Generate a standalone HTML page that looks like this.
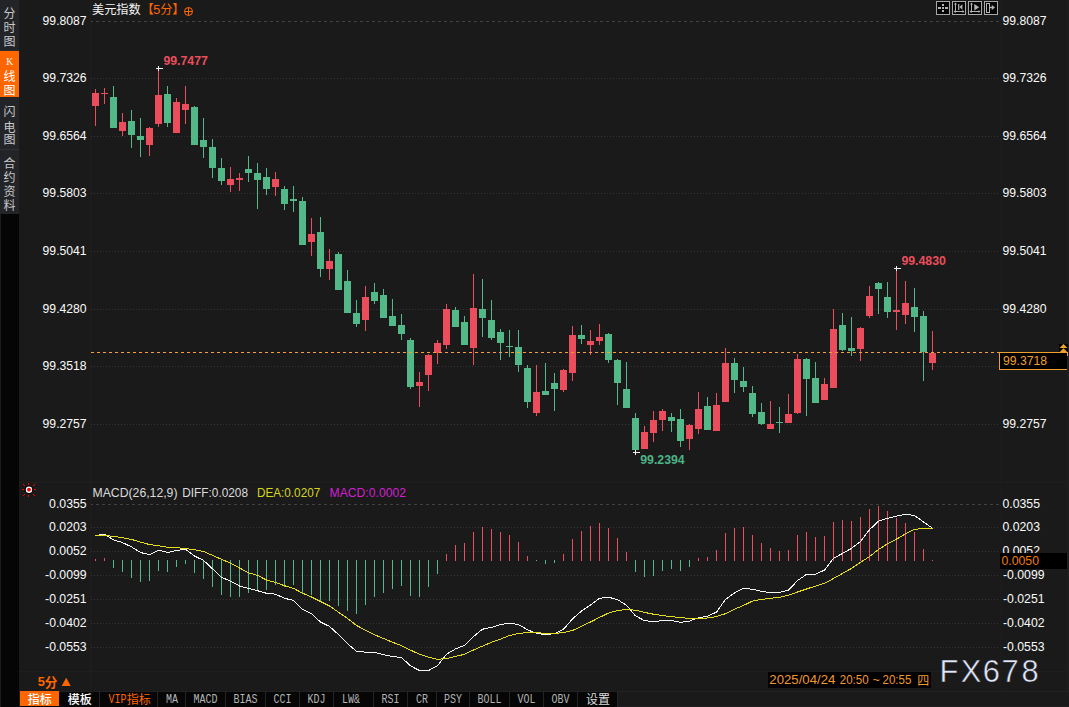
<!DOCTYPE html>
<html><head><meta charset="utf-8"><title>USD Index 5m</title>
<style>
html,body{margin:0;padding:0;background:#1a1a1a;}
body{width:1069px;height:707px;overflow:hidden;font-family:"Liberation Sans",sans-serif;}
svg{display:block;}
text{white-space:pre;}
</style></head><body>
<svg width="1069" height="707" viewBox="0 0 1069 707">
<rect x="0" y="0" width="1069" height="707" fill="#1a1a1a"/>
<g shape-rendering="crispEdges">
<rect x="90" y="0" width="1" height="691" fill="#1e1e1e"/>
<rect x="1000" y="0" width="1" height="691" fill="#1c1c1c"/>
<rect x="19" y="482" width="1050" height="1" fill="#1f1f1f"/>
<rect x="19" y="671" width="1050" height="1" fill="#1e1e1e"/>
<rect x="1067" y="0" width="2" height="691" fill="#1e1e1e"/>
<rect x="91" y="21" width="2" height="1" fill="#414141"/>
<rect x="96" y="21" width="3" height="1" fill="#414141"/>
<rect x="102" y="21" width="3" height="1" fill="#414141"/>
<rect x="108" y="21" width="3" height="1" fill="#414141"/>
<rect x="114" y="21" width="3" height="1" fill="#414141"/>
<rect x="120" y="21" width="3" height="1" fill="#414141"/>
<rect x="126" y="21" width="3" height="1" fill="#414141"/>
<rect x="132" y="21" width="3" height="1" fill="#414141"/>
<rect x="138" y="21" width="3" height="1" fill="#414141"/>
<rect x="144" y="21" width="3" height="1" fill="#414141"/>
<rect x="150" y="21" width="3" height="1" fill="#414141"/>
<rect x="156" y="21" width="3" height="1" fill="#414141"/>
<rect x="162" y="21" width="3" height="1" fill="#414141"/>
<rect x="168" y="21" width="3" height="1" fill="#414141"/>
<rect x="174" y="21" width="3" height="1" fill="#414141"/>
<rect x="180" y="21" width="3" height="1" fill="#414141"/>
<rect x="186" y="21" width="3" height="1" fill="#414141"/>
<rect x="192" y="21" width="3" height="1" fill="#414141"/>
<rect x="198" y="21" width="3" height="1" fill="#414141"/>
<rect x="204" y="21" width="3" height="1" fill="#414141"/>
<rect x="210" y="21" width="3" height="1" fill="#414141"/>
<rect x="216" y="21" width="3" height="1" fill="#414141"/>
<rect x="222" y="21" width="3" height="1" fill="#414141"/>
<rect x="228" y="21" width="3" height="1" fill="#414141"/>
<rect x="234" y="21" width="3" height="1" fill="#414141"/>
<rect x="240" y="21" width="3" height="1" fill="#414141"/>
<rect x="246" y="21" width="3" height="1" fill="#414141"/>
<rect x="252" y="21" width="3" height="1" fill="#414141"/>
<rect x="258" y="21" width="3" height="1" fill="#414141"/>
<rect x="264" y="21" width="3" height="1" fill="#414141"/>
<rect x="270" y="21" width="3" height="1" fill="#414141"/>
<rect x="276" y="21" width="3" height="1" fill="#414141"/>
<rect x="282" y="21" width="3" height="1" fill="#414141"/>
<rect x="288" y="21" width="3" height="1" fill="#414141"/>
<rect x="294" y="21" width="3" height="1" fill="#414141"/>
<rect x="300" y="21" width="3" height="1" fill="#414141"/>
<rect x="306" y="21" width="3" height="1" fill="#414141"/>
<rect x="312" y="21" width="3" height="1" fill="#414141"/>
<rect x="318" y="21" width="3" height="1" fill="#414141"/>
<rect x="324" y="21" width="3" height="1" fill="#414141"/>
<rect x="330" y="21" width="3" height="1" fill="#414141"/>
<rect x="336" y="21" width="3" height="1" fill="#414141"/>
<rect x="342" y="21" width="3" height="1" fill="#414141"/>
<rect x="348" y="21" width="3" height="1" fill="#414141"/>
<rect x="354" y="21" width="3" height="1" fill="#414141"/>
<rect x="360" y="21" width="3" height="1" fill="#414141"/>
<rect x="366" y="21" width="3" height="1" fill="#414141"/>
<rect x="372" y="21" width="3" height="1" fill="#414141"/>
<rect x="378" y="21" width="3" height="1" fill="#414141"/>
<rect x="384" y="21" width="3" height="1" fill="#414141"/>
<rect x="390" y="21" width="3" height="1" fill="#414141"/>
<rect x="396" y="21" width="3" height="1" fill="#414141"/>
<rect x="402" y="21" width="3" height="1" fill="#414141"/>
<rect x="408" y="21" width="3" height="1" fill="#414141"/>
<rect x="414" y="21" width="3" height="1" fill="#414141"/>
<rect x="420" y="21" width="3" height="1" fill="#414141"/>
<rect x="426" y="21" width="3" height="1" fill="#414141"/>
<rect x="432" y="21" width="3" height="1" fill="#414141"/>
<rect x="438" y="21" width="3" height="1" fill="#414141"/>
<rect x="444" y="21" width="3" height="1" fill="#414141"/>
<rect x="450" y="21" width="3" height="1" fill="#414141"/>
<rect x="456" y="21" width="3" height="1" fill="#414141"/>
<rect x="462" y="21" width="3" height="1" fill="#414141"/>
<rect x="468" y="21" width="3" height="1" fill="#414141"/>
<rect x="474" y="21" width="3" height="1" fill="#414141"/>
<rect x="480" y="21" width="3" height="1" fill="#414141"/>
<rect x="486" y="21" width="3" height="1" fill="#414141"/>
<rect x="492" y="21" width="3" height="1" fill="#414141"/>
<rect x="498" y="21" width="3" height="1" fill="#414141"/>
<rect x="504" y="21" width="3" height="1" fill="#414141"/>
<rect x="510" y="21" width="3" height="1" fill="#414141"/>
<rect x="516" y="21" width="3" height="1" fill="#414141"/>
<rect x="522" y="21" width="3" height="1" fill="#414141"/>
<rect x="528" y="21" width="3" height="1" fill="#414141"/>
<rect x="534" y="21" width="3" height="1" fill="#414141"/>
<rect x="540" y="21" width="3" height="1" fill="#414141"/>
<rect x="546" y="21" width="3" height="1" fill="#414141"/>
<rect x="552" y="21" width="3" height="1" fill="#414141"/>
<rect x="558" y="21" width="3" height="1" fill="#414141"/>
<rect x="564" y="21" width="3" height="1" fill="#414141"/>
<rect x="570" y="21" width="3" height="1" fill="#414141"/>
<rect x="576" y="21" width="3" height="1" fill="#414141"/>
<rect x="582" y="21" width="3" height="1" fill="#414141"/>
<rect x="588" y="21" width="3" height="1" fill="#414141"/>
<rect x="594" y="21" width="3" height="1" fill="#414141"/>
<rect x="600" y="21" width="3" height="1" fill="#414141"/>
<rect x="606" y="21" width="3" height="1" fill="#414141"/>
<rect x="612" y="21" width="3" height="1" fill="#414141"/>
<rect x="618" y="21" width="3" height="1" fill="#414141"/>
<rect x="624" y="21" width="3" height="1" fill="#414141"/>
<rect x="630" y="21" width="3" height="1" fill="#414141"/>
<rect x="636" y="21" width="3" height="1" fill="#414141"/>
<rect x="642" y="21" width="3" height="1" fill="#414141"/>
<rect x="648" y="21" width="3" height="1" fill="#414141"/>
<rect x="654" y="21" width="3" height="1" fill="#414141"/>
<rect x="660" y="21" width="3" height="1" fill="#414141"/>
<rect x="666" y="21" width="3" height="1" fill="#414141"/>
<rect x="672" y="21" width="3" height="1" fill="#414141"/>
<rect x="678" y="21" width="3" height="1" fill="#414141"/>
<rect x="684" y="21" width="3" height="1" fill="#414141"/>
<rect x="690" y="21" width="3" height="1" fill="#414141"/>
<rect x="696" y="21" width="3" height="1" fill="#414141"/>
<rect x="702" y="21" width="3" height="1" fill="#414141"/>
<rect x="708" y="21" width="3" height="1" fill="#414141"/>
<rect x="714" y="21" width="3" height="1" fill="#414141"/>
<rect x="720" y="21" width="3" height="1" fill="#414141"/>
<rect x="726" y="21" width="3" height="1" fill="#414141"/>
<rect x="732" y="21" width="3" height="1" fill="#414141"/>
<rect x="738" y="21" width="3" height="1" fill="#414141"/>
<rect x="744" y="21" width="3" height="1" fill="#414141"/>
<rect x="750" y="21" width="3" height="1" fill="#414141"/>
<rect x="756" y="21" width="3" height="1" fill="#414141"/>
<rect x="762" y="21" width="3" height="1" fill="#414141"/>
<rect x="768" y="21" width="3" height="1" fill="#414141"/>
<rect x="774" y="21" width="3" height="1" fill="#414141"/>
<rect x="780" y="21" width="3" height="1" fill="#414141"/>
<rect x="786" y="21" width="3" height="1" fill="#414141"/>
<rect x="792" y="21" width="3" height="1" fill="#414141"/>
<rect x="798" y="21" width="3" height="1" fill="#414141"/>
<rect x="804" y="21" width="3" height="1" fill="#414141"/>
<rect x="810" y="21" width="3" height="1" fill="#414141"/>
<rect x="816" y="21" width="3" height="1" fill="#414141"/>
<rect x="822" y="21" width="3" height="1" fill="#414141"/>
<rect x="828" y="21" width="3" height="1" fill="#414141"/>
<rect x="834" y="21" width="3" height="1" fill="#414141"/>
<rect x="840" y="21" width="3" height="1" fill="#414141"/>
<rect x="846" y="21" width="3" height="1" fill="#414141"/>
<rect x="852" y="21" width="3" height="1" fill="#414141"/>
<rect x="858" y="21" width="3" height="1" fill="#414141"/>
<rect x="864" y="21" width="3" height="1" fill="#414141"/>
<rect x="870" y="21" width="3" height="1" fill="#414141"/>
<rect x="876" y="21" width="3" height="1" fill="#414141"/>
<rect x="882" y="21" width="3" height="1" fill="#414141"/>
<rect x="888" y="21" width="3" height="1" fill="#414141"/>
<rect x="894" y="21" width="3" height="1" fill="#414141"/>
<rect x="900" y="21" width="3" height="1" fill="#414141"/>
<rect x="906" y="21" width="3" height="1" fill="#414141"/>
<rect x="912" y="21" width="3" height="1" fill="#414141"/>
<rect x="918" y="21" width="3" height="1" fill="#414141"/>
<rect x="924" y="21" width="3" height="1" fill="#414141"/>
<rect x="930" y="21" width="3" height="1" fill="#414141"/>
<rect x="936" y="21" width="3" height="1" fill="#414141"/>
<rect x="942" y="21" width="3" height="1" fill="#414141"/>
<rect x="948" y="21" width="3" height="1" fill="#414141"/>
<rect x="954" y="21" width="3" height="1" fill="#414141"/>
<rect x="960" y="21" width="3" height="1" fill="#414141"/>
<rect x="966" y="21" width="3" height="1" fill="#414141"/>
<rect x="972" y="21" width="3" height="1" fill="#414141"/>
<rect x="978" y="21" width="3" height="1" fill="#414141"/>
<rect x="984" y="21" width="3" height="1" fill="#414141"/>
<rect x="990" y="21" width="3" height="1" fill="#414141"/>
<rect x="996" y="21" width="3" height="1" fill="#414141"/>
<line x1="91" y1="78.5" x2="999" y2="78.5" stroke="#353535" stroke-width="1" stroke-dasharray="1 2"/>
<line x1="91" y1="136.5" x2="999" y2="136.5" stroke="#353535" stroke-width="1" stroke-dasharray="1 2"/>
<line x1="91" y1="193.5" x2="999" y2="193.5" stroke="#353535" stroke-width="1" stroke-dasharray="1 2"/>
<line x1="91" y1="251.5" x2="999" y2="251.5" stroke="#353535" stroke-width="1" stroke-dasharray="1 2"/>
<line x1="91" y1="309.5" x2="999" y2="309.5" stroke="#353535" stroke-width="1" stroke-dasharray="1 2"/>
<line x1="91" y1="366.5" x2="999" y2="366.5" stroke="#353535" stroke-width="1" stroke-dasharray="1 2"/>
<line x1="91" y1="424.5" x2="999" y2="424.5" stroke="#353535" stroke-width="1" stroke-dasharray="1 2"/>
<rect x="91" y="504" width="2" height="1" fill="#414141"/>
<rect x="96" y="504" width="3" height="1" fill="#414141"/>
<rect x="102" y="504" width="3" height="1" fill="#414141"/>
<rect x="108" y="504" width="3" height="1" fill="#414141"/>
<rect x="114" y="504" width="3" height="1" fill="#414141"/>
<rect x="120" y="504" width="3" height="1" fill="#414141"/>
<rect x="126" y="504" width="3" height="1" fill="#414141"/>
<rect x="132" y="504" width="3" height="1" fill="#414141"/>
<rect x="138" y="504" width="3" height="1" fill="#414141"/>
<rect x="144" y="504" width="3" height="1" fill="#414141"/>
<rect x="150" y="504" width="3" height="1" fill="#414141"/>
<rect x="156" y="504" width="3" height="1" fill="#414141"/>
<rect x="162" y="504" width="3" height="1" fill="#414141"/>
<rect x="168" y="504" width="3" height="1" fill="#414141"/>
<rect x="174" y="504" width="3" height="1" fill="#414141"/>
<rect x="180" y="504" width="3" height="1" fill="#414141"/>
<rect x="186" y="504" width="3" height="1" fill="#414141"/>
<rect x="192" y="504" width="3" height="1" fill="#414141"/>
<rect x="198" y="504" width="3" height="1" fill="#414141"/>
<rect x="204" y="504" width="3" height="1" fill="#414141"/>
<rect x="210" y="504" width="3" height="1" fill="#414141"/>
<rect x="216" y="504" width="3" height="1" fill="#414141"/>
<rect x="222" y="504" width="3" height="1" fill="#414141"/>
<rect x="228" y="504" width="3" height="1" fill="#414141"/>
<rect x="234" y="504" width="3" height="1" fill="#414141"/>
<rect x="240" y="504" width="3" height="1" fill="#414141"/>
<rect x="246" y="504" width="3" height="1" fill="#414141"/>
<rect x="252" y="504" width="3" height="1" fill="#414141"/>
<rect x="258" y="504" width="3" height="1" fill="#414141"/>
<rect x="264" y="504" width="3" height="1" fill="#414141"/>
<rect x="270" y="504" width="3" height="1" fill="#414141"/>
<rect x="276" y="504" width="3" height="1" fill="#414141"/>
<rect x="282" y="504" width="3" height="1" fill="#414141"/>
<rect x="288" y="504" width="3" height="1" fill="#414141"/>
<rect x="294" y="504" width="3" height="1" fill="#414141"/>
<rect x="300" y="504" width="3" height="1" fill="#414141"/>
<rect x="306" y="504" width="3" height="1" fill="#414141"/>
<rect x="312" y="504" width="3" height="1" fill="#414141"/>
<rect x="318" y="504" width="3" height="1" fill="#414141"/>
<rect x="324" y="504" width="3" height="1" fill="#414141"/>
<rect x="330" y="504" width="3" height="1" fill="#414141"/>
<rect x="336" y="504" width="3" height="1" fill="#414141"/>
<rect x="342" y="504" width="3" height="1" fill="#414141"/>
<rect x="348" y="504" width="3" height="1" fill="#414141"/>
<rect x="354" y="504" width="3" height="1" fill="#414141"/>
<rect x="360" y="504" width="3" height="1" fill="#414141"/>
<rect x="366" y="504" width="3" height="1" fill="#414141"/>
<rect x="372" y="504" width="3" height="1" fill="#414141"/>
<rect x="378" y="504" width="3" height="1" fill="#414141"/>
<rect x="384" y="504" width="3" height="1" fill="#414141"/>
<rect x="390" y="504" width="3" height="1" fill="#414141"/>
<rect x="396" y="504" width="3" height="1" fill="#414141"/>
<rect x="402" y="504" width="3" height="1" fill="#414141"/>
<rect x="408" y="504" width="3" height="1" fill="#414141"/>
<rect x="414" y="504" width="3" height="1" fill="#414141"/>
<rect x="420" y="504" width="3" height="1" fill="#414141"/>
<rect x="426" y="504" width="3" height="1" fill="#414141"/>
<rect x="432" y="504" width="3" height="1" fill="#414141"/>
<rect x="438" y="504" width="3" height="1" fill="#414141"/>
<rect x="444" y="504" width="3" height="1" fill="#414141"/>
<rect x="450" y="504" width="3" height="1" fill="#414141"/>
<rect x="456" y="504" width="3" height="1" fill="#414141"/>
<rect x="462" y="504" width="3" height="1" fill="#414141"/>
<rect x="468" y="504" width="3" height="1" fill="#414141"/>
<rect x="474" y="504" width="3" height="1" fill="#414141"/>
<rect x="480" y="504" width="3" height="1" fill="#414141"/>
<rect x="486" y="504" width="3" height="1" fill="#414141"/>
<rect x="492" y="504" width="3" height="1" fill="#414141"/>
<rect x="498" y="504" width="3" height="1" fill="#414141"/>
<rect x="504" y="504" width="3" height="1" fill="#414141"/>
<rect x="510" y="504" width="3" height="1" fill="#414141"/>
<rect x="516" y="504" width="3" height="1" fill="#414141"/>
<rect x="522" y="504" width="3" height="1" fill="#414141"/>
<rect x="528" y="504" width="3" height="1" fill="#414141"/>
<rect x="534" y="504" width="3" height="1" fill="#414141"/>
<rect x="540" y="504" width="3" height="1" fill="#414141"/>
<rect x="546" y="504" width="3" height="1" fill="#414141"/>
<rect x="552" y="504" width="3" height="1" fill="#414141"/>
<rect x="558" y="504" width="3" height="1" fill="#414141"/>
<rect x="564" y="504" width="3" height="1" fill="#414141"/>
<rect x="570" y="504" width="3" height="1" fill="#414141"/>
<rect x="576" y="504" width="3" height="1" fill="#414141"/>
<rect x="582" y="504" width="3" height="1" fill="#414141"/>
<rect x="588" y="504" width="3" height="1" fill="#414141"/>
<rect x="594" y="504" width="3" height="1" fill="#414141"/>
<rect x="600" y="504" width="3" height="1" fill="#414141"/>
<rect x="606" y="504" width="3" height="1" fill="#414141"/>
<rect x="612" y="504" width="3" height="1" fill="#414141"/>
<rect x="618" y="504" width="3" height="1" fill="#414141"/>
<rect x="624" y="504" width="3" height="1" fill="#414141"/>
<rect x="630" y="504" width="3" height="1" fill="#414141"/>
<rect x="636" y="504" width="3" height="1" fill="#414141"/>
<rect x="642" y="504" width="3" height="1" fill="#414141"/>
<rect x="648" y="504" width="3" height="1" fill="#414141"/>
<rect x="654" y="504" width="3" height="1" fill="#414141"/>
<rect x="660" y="504" width="3" height="1" fill="#414141"/>
<rect x="666" y="504" width="3" height="1" fill="#414141"/>
<rect x="672" y="504" width="3" height="1" fill="#414141"/>
<rect x="678" y="504" width="3" height="1" fill="#414141"/>
<rect x="684" y="504" width="3" height="1" fill="#414141"/>
<rect x="690" y="504" width="3" height="1" fill="#414141"/>
<rect x="696" y="504" width="3" height="1" fill="#414141"/>
<rect x="702" y="504" width="3" height="1" fill="#414141"/>
<rect x="708" y="504" width="3" height="1" fill="#414141"/>
<rect x="714" y="504" width="3" height="1" fill="#414141"/>
<rect x="720" y="504" width="3" height="1" fill="#414141"/>
<rect x="726" y="504" width="3" height="1" fill="#414141"/>
<rect x="732" y="504" width="3" height="1" fill="#414141"/>
<rect x="738" y="504" width="3" height="1" fill="#414141"/>
<rect x="744" y="504" width="3" height="1" fill="#414141"/>
<rect x="750" y="504" width="3" height="1" fill="#414141"/>
<rect x="756" y="504" width="3" height="1" fill="#414141"/>
<rect x="762" y="504" width="3" height="1" fill="#414141"/>
<rect x="768" y="504" width="3" height="1" fill="#414141"/>
<rect x="774" y="504" width="3" height="1" fill="#414141"/>
<rect x="780" y="504" width="3" height="1" fill="#414141"/>
<rect x="786" y="504" width="3" height="1" fill="#414141"/>
<rect x="792" y="504" width="3" height="1" fill="#414141"/>
<rect x="798" y="504" width="3" height="1" fill="#414141"/>
<rect x="804" y="504" width="3" height="1" fill="#414141"/>
<rect x="810" y="504" width="3" height="1" fill="#414141"/>
<rect x="816" y="504" width="3" height="1" fill="#414141"/>
<rect x="822" y="504" width="3" height="1" fill="#414141"/>
<rect x="828" y="504" width="3" height="1" fill="#414141"/>
<rect x="834" y="504" width="3" height="1" fill="#414141"/>
<rect x="840" y="504" width="3" height="1" fill="#414141"/>
<rect x="846" y="504" width="3" height="1" fill="#414141"/>
<rect x="852" y="504" width="3" height="1" fill="#414141"/>
<rect x="858" y="504" width="3" height="1" fill="#414141"/>
<rect x="864" y="504" width="3" height="1" fill="#414141"/>
<rect x="870" y="504" width="3" height="1" fill="#414141"/>
<rect x="876" y="504" width="3" height="1" fill="#414141"/>
<rect x="882" y="504" width="3" height="1" fill="#414141"/>
<rect x="888" y="504" width="3" height="1" fill="#414141"/>
<rect x="894" y="504" width="3" height="1" fill="#414141"/>
<rect x="900" y="504" width="3" height="1" fill="#414141"/>
<rect x="906" y="504" width="3" height="1" fill="#414141"/>
<rect x="912" y="504" width="3" height="1" fill="#414141"/>
<rect x="918" y="504" width="3" height="1" fill="#414141"/>
<rect x="924" y="504" width="3" height="1" fill="#414141"/>
<rect x="930" y="504" width="3" height="1" fill="#414141"/>
<rect x="936" y="504" width="3" height="1" fill="#414141"/>
<rect x="942" y="504" width="3" height="1" fill="#414141"/>
<rect x="948" y="504" width="3" height="1" fill="#414141"/>
<rect x="954" y="504" width="3" height="1" fill="#414141"/>
<rect x="960" y="504" width="3" height="1" fill="#414141"/>
<rect x="966" y="504" width="3" height="1" fill="#414141"/>
<rect x="972" y="504" width="3" height="1" fill="#414141"/>
<rect x="978" y="504" width="3" height="1" fill="#414141"/>
<rect x="984" y="504" width="3" height="1" fill="#414141"/>
<rect x="990" y="504" width="3" height="1" fill="#414141"/>
<rect x="996" y="504" width="3" height="1" fill="#414141"/>
<line x1="91" y1="527.5" x2="999" y2="527.5" stroke="#353535" stroke-width="1" stroke-dasharray="1 2"/>
<line x1="91" y1="551.5" x2="999" y2="551.5" stroke="#353535" stroke-width="1" stroke-dasharray="1 2"/>
<line x1="91" y1="575.5" x2="999" y2="575.5" stroke="#353535" stroke-width="1" stroke-dasharray="1 2"/>
<line x1="91" y1="599.5" x2="999" y2="599.5" stroke="#353535" stroke-width="1" stroke-dasharray="1 2"/>
<line x1="91" y1="623.5" x2="999" y2="623.5" stroke="#353535" stroke-width="1" stroke-dasharray="1 2"/>
<line x1="91" y1="647.5" x2="999" y2="647.5" stroke="#353535" stroke-width="1" stroke-dasharray="1 2"/>
<rect x="95" y="89" width="1" height="37" fill="#eb4d5c"/>
<rect x="92" y="93" width="7" height="13" fill="#eb4d5c"/>
<rect x="104" y="88" width="1" height="16" fill="#eb4d5c"/>
<rect x="101" y="93" width="7" height="1" fill="#eb4d5c"/>
<rect x="113" y="86" width="1" height="42" fill="#52b888"/>
<rect x="110" y="97" width="7" height="31" fill="#52b888"/>
<rect x="122" y="113" width="1" height="23" fill="#eb4d5c"/>
<rect x="119" y="122" width="7" height="9" fill="#eb4d5c"/>
<rect x="131" y="110" width="1" height="38" fill="#52b888"/>
<rect x="128" y="121" width="7" height="14" fill="#52b888"/>
<rect x="140" y="118" width="1" height="39" fill="#52b888"/>
<rect x="137" y="136" width="7" height="4" fill="#52b888"/>
<rect x="149" y="127" width="1" height="29" fill="#eb4d5c"/>
<rect x="146" y="128" width="7" height="17" fill="#eb4d5c"/>
<rect x="158" y="68" width="1" height="59" fill="#eb4d5c"/>
<rect x="155" y="95" width="7" height="29" fill="#eb4d5c"/>
<rect x="167" y="86" width="1" height="41" fill="#52b888"/>
<rect x="164" y="94" width="7" height="29" fill="#52b888"/>
<rect x="176" y="98" width="1" height="35" fill="#eb4d5c"/>
<rect x="173" y="102" width="7" height="31" fill="#eb4d5c"/>
<rect x="185" y="86" width="1" height="38" fill="#eb4d5c"/>
<rect x="182" y="104" width="7" height="6" fill="#eb4d5c"/>
<rect x="194" y="106" width="1" height="39" fill="#52b888"/>
<rect x="191" y="107" width="7" height="38" fill="#52b888"/>
<rect x="203" y="118" width="1" height="40" fill="#52b888"/>
<rect x="200" y="140" width="7" height="7" fill="#52b888"/>
<rect x="212" y="139" width="1" height="39" fill="#52b888"/>
<rect x="209" y="147" width="7" height="21" fill="#52b888"/>
<rect x="221" y="158" width="1" height="27" fill="#52b888"/>
<rect x="218" y="168" width="7" height="13" fill="#52b888"/>
<rect x="230" y="167" width="1" height="25" fill="#eb4d5c"/>
<rect x="227" y="179" width="7" height="6" fill="#eb4d5c"/>
<rect x="239" y="173" width="1" height="18" fill="#eb4d5c"/>
<rect x="236" y="178" width="7" height="2" fill="#eb4d5c"/>
<rect x="248" y="156" width="1" height="26" fill="#52b888"/>
<rect x="245" y="169" width="7" height="4" fill="#52b888"/>
<rect x="257" y="163" width="1" height="46" fill="#52b888"/>
<rect x="254" y="173" width="7" height="7" fill="#52b888"/>
<rect x="266" y="168" width="1" height="27" fill="#52b888"/>
<rect x="263" y="177" width="7" height="12" fill="#52b888"/>
<rect x="275" y="172" width="1" height="24" fill="#eb4d5c"/>
<rect x="272" y="179" width="7" height="8" fill="#eb4d5c"/>
<rect x="284" y="186" width="1" height="24" fill="#52b888"/>
<rect x="281" y="189" width="7" height="15" fill="#52b888"/>
<rect x="293" y="186" width="1" height="26" fill="#52b888"/>
<rect x="290" y="199" width="7" height="2" fill="#52b888"/>
<rect x="302" y="197" width="1" height="48" fill="#52b888"/>
<rect x="299" y="201" width="7" height="44" fill="#52b888"/>
<rect x="311" y="218" width="1" height="38" fill="#eb4d5c"/>
<rect x="308" y="234" width="7" height="8" fill="#eb4d5c"/>
<rect x="320" y="217" width="1" height="60" fill="#52b888"/>
<rect x="317" y="232" width="7" height="37" fill="#52b888"/>
<rect x="329" y="249" width="1" height="31" fill="#eb4d5c"/>
<rect x="326" y="261" width="7" height="8" fill="#eb4d5c"/>
<rect x="338" y="252" width="1" height="38" fill="#52b888"/>
<rect x="335" y="254" width="7" height="36" fill="#52b888"/>
<rect x="347" y="270" width="1" height="43" fill="#52b888"/>
<rect x="344" y="281" width="7" height="32" fill="#52b888"/>
<rect x="356" y="300" width="1" height="27" fill="#52b888"/>
<rect x="353" y="313" width="7" height="11" fill="#52b888"/>
<rect x="365" y="286" width="1" height="45" fill="#eb4d5c"/>
<rect x="362" y="297" width="7" height="23" fill="#eb4d5c"/>
<rect x="374" y="283" width="1" height="21" fill="#52b888"/>
<rect x="371" y="292" width="7" height="9" fill="#52b888"/>
<rect x="383" y="289" width="1" height="29" fill="#52b888"/>
<rect x="380" y="295" width="7" height="23" fill="#52b888"/>
<rect x="392" y="299" width="1" height="27" fill="#52b888"/>
<rect x="389" y="316" width="7" height="10" fill="#52b888"/>
<rect x="401" y="314" width="1" height="26" fill="#52b888"/>
<rect x="398" y="325" width="7" height="9" fill="#52b888"/>
<rect x="410" y="338" width="1" height="51" fill="#52b888"/>
<rect x="407" y="340" width="7" height="47" fill="#52b888"/>
<rect x="419" y="372" width="1" height="35" fill="#eb4d5c"/>
<rect x="416" y="382" width="7" height="4" fill="#eb4d5c"/>
<rect x="428" y="354" width="1" height="37" fill="#eb4d5c"/>
<rect x="425" y="355" width="7" height="20" fill="#eb4d5c"/>
<rect x="437" y="340" width="1" height="24" fill="#eb4d5c"/>
<rect x="434" y="343" width="7" height="10" fill="#eb4d5c"/>
<rect x="446" y="304" width="1" height="45" fill="#eb4d5c"/>
<rect x="443" y="309" width="7" height="36" fill="#eb4d5c"/>
<rect x="455" y="307" width="1" height="20" fill="#52b888"/>
<rect x="452" y="310" width="7" height="17" fill="#52b888"/>
<rect x="464" y="316" width="1" height="29" fill="#52b888"/>
<rect x="461" y="322" width="7" height="23" fill="#52b888"/>
<rect x="473" y="274" width="1" height="91" fill="#eb4d5c"/>
<rect x="470" y="308" width="7" height="40" fill="#eb4d5c"/>
<rect x="482" y="279" width="1" height="58" fill="#52b888"/>
<rect x="479" y="309" width="7" height="9" fill="#52b888"/>
<rect x="491" y="300" width="1" height="40" fill="#52b888"/>
<rect x="488" y="320" width="7" height="18" fill="#52b888"/>
<rect x="500" y="329" width="1" height="31" fill="#52b888"/>
<rect x="497" y="332" width="7" height="11" fill="#52b888"/>
<rect x="509" y="330" width="1" height="27" fill="#52b888"/>
<rect x="506" y="346" width="7" height="1" fill="#52b888"/>
<rect x="518" y="330" width="1" height="42" fill="#52b888"/>
<rect x="515" y="347" width="7" height="18" fill="#52b888"/>
<rect x="527" y="365" width="1" height="43" fill="#52b888"/>
<rect x="524" y="368" width="7" height="34" fill="#52b888"/>
<rect x="536" y="365" width="1" height="51" fill="#eb4d5c"/>
<rect x="533" y="392" width="7" height="21" fill="#eb4d5c"/>
<rect x="545" y="363" width="1" height="32" fill="#52b888"/>
<rect x="542" y="391" width="7" height="4" fill="#52b888"/>
<rect x="554" y="373" width="1" height="38" fill="#52b888"/>
<rect x="551" y="383" width="7" height="6" fill="#52b888"/>
<rect x="563" y="369" width="1" height="23" fill="#eb4d5c"/>
<rect x="560" y="370" width="7" height="20" fill="#eb4d5c"/>
<rect x="572" y="326" width="1" height="55" fill="#eb4d5c"/>
<rect x="569" y="335" width="7" height="38" fill="#eb4d5c"/>
<rect x="581" y="325" width="1" height="19" fill="#52b888"/>
<rect x="578" y="335" width="7" height="4" fill="#52b888"/>
<rect x="590" y="330" width="1" height="25" fill="#eb4d5c"/>
<rect x="587" y="341" width="7" height="4" fill="#eb4d5c"/>
<rect x="599" y="324" width="1" height="21" fill="#eb4d5c"/>
<rect x="596" y="337" width="7" height="4" fill="#eb4d5c"/>
<rect x="608" y="333" width="1" height="30" fill="#52b888"/>
<rect x="605" y="334" width="7" height="26" fill="#52b888"/>
<rect x="617" y="359" width="1" height="46" fill="#52b888"/>
<rect x="614" y="360" width="7" height="23" fill="#52b888"/>
<rect x="626" y="362" width="1" height="46" fill="#52b888"/>
<rect x="623" y="389" width="7" height="19" fill="#52b888"/>
<rect x="635" y="413" width="1" height="39" fill="#52b888"/>
<rect x="632" y="418" width="7" height="32" fill="#52b888"/>
<rect x="644" y="426" width="1" height="23" fill="#eb4d5c"/>
<rect x="641" y="432" width="7" height="17" fill="#eb4d5c"/>
<rect x="653" y="411" width="1" height="31" fill="#eb4d5c"/>
<rect x="650" y="420" width="7" height="13" fill="#eb4d5c"/>
<rect x="662" y="409" width="1" height="22" fill="#eb4d5c"/>
<rect x="659" y="411" width="7" height="9" fill="#eb4d5c"/>
<rect x="671" y="413" width="1" height="19" fill="#52b888"/>
<rect x="668" y="417" width="7" height="4" fill="#52b888"/>
<rect x="680" y="409" width="1" height="38" fill="#52b888"/>
<rect x="677" y="419" width="7" height="22" fill="#52b888"/>
<rect x="689" y="424" width="1" height="26" fill="#eb4d5c"/>
<rect x="686" y="425" width="7" height="14" fill="#eb4d5c"/>
<rect x="698" y="392" width="1" height="42" fill="#eb4d5c"/>
<rect x="695" y="409" width="7" height="20" fill="#eb4d5c"/>
<rect x="707" y="397" width="1" height="33" fill="#52b888"/>
<rect x="704" y="406" width="7" height="24" fill="#52b888"/>
<rect x="716" y="393" width="1" height="38" fill="#eb4d5c"/>
<rect x="713" y="405" width="7" height="26" fill="#eb4d5c"/>
<rect x="725" y="348" width="1" height="54" fill="#eb4d5c"/>
<rect x="722" y="363" width="7" height="39" fill="#eb4d5c"/>
<rect x="734" y="358" width="1" height="35" fill="#52b888"/>
<rect x="731" y="363" width="7" height="17" fill="#52b888"/>
<rect x="743" y="367" width="1" height="25" fill="#52b888"/>
<rect x="740" y="381" width="7" height="6" fill="#52b888"/>
<rect x="752" y="386" width="1" height="31" fill="#52b888"/>
<rect x="749" y="393" width="7" height="21" fill="#52b888"/>
<rect x="761" y="403" width="1" height="22" fill="#52b888"/>
<rect x="758" y="412" width="7" height="12" fill="#52b888"/>
<rect x="770" y="401" width="1" height="28" fill="#eb4d5c"/>
<rect x="767" y="424" width="7" height="5" fill="#eb4d5c"/>
<rect x="779" y="407" width="1" height="26" fill="#52b888"/>
<rect x="776" y="422" width="7" height="1" fill="#52b888"/>
<rect x="788" y="394" width="1" height="29" fill="#eb4d5c"/>
<rect x="785" y="414" width="7" height="9" fill="#eb4d5c"/>
<rect x="797" y="354" width="1" height="60" fill="#eb4d5c"/>
<rect x="794" y="359" width="7" height="54" fill="#eb4d5c"/>
<rect x="806" y="358" width="1" height="58" fill="#52b888"/>
<rect x="803" y="359" width="7" height="20" fill="#52b888"/>
<rect x="815" y="362" width="1" height="41" fill="#52b888"/>
<rect x="812" y="378" width="7" height="25" fill="#52b888"/>
<rect x="824" y="378" width="1" height="22" fill="#eb4d5c"/>
<rect x="821" y="384" width="7" height="16" fill="#eb4d5c"/>
<rect x="833" y="309" width="1" height="79" fill="#eb4d5c"/>
<rect x="830" y="329" width="7" height="59" fill="#eb4d5c"/>
<rect x="842" y="313" width="1" height="38" fill="#52b888"/>
<rect x="839" y="325" width="7" height="25" fill="#52b888"/>
<rect x="851" y="317" width="1" height="39" fill="#52b888"/>
<rect x="848" y="348" width="7" height="3" fill="#52b888"/>
<rect x="860" y="327" width="1" height="34" fill="#eb4d5c"/>
<rect x="857" y="328" width="7" height="21" fill="#eb4d5c"/>
<rect x="869" y="286" width="1" height="32" fill="#eb4d5c"/>
<rect x="866" y="296" width="7" height="20" fill="#eb4d5c"/>
<rect x="878" y="282" width="1" height="32" fill="#52b888"/>
<rect x="875" y="283" width="7" height="6" fill="#52b888"/>
<rect x="887" y="282" width="1" height="36" fill="#52b888"/>
<rect x="884" y="297" width="7" height="15" fill="#52b888"/>
<rect x="896" y="268" width="1" height="62" fill="#eb4d5c"/>
<rect x="893" y="310" width="7" height="2" fill="#eb4d5c"/>
<rect x="905" y="281" width="1" height="43" fill="#eb4d5c"/>
<rect x="902" y="303" width="7" height="12" fill="#eb4d5c"/>
<rect x="914" y="288" width="1" height="44" fill="#52b888"/>
<rect x="911" y="307" width="7" height="10" fill="#52b888"/>
<rect x="923" y="311" width="1" height="70" fill="#52b888"/>
<rect x="920" y="316" width="7" height="36" fill="#52b888"/>
<rect x="932" y="331" width="1" height="39" fill="#eb4d5c"/>
<rect x="929" y="353" width="7" height="10" fill="#eb4d5c"/>
<rect x="95" y="559" width="1" height="2" fill="#eb4d5c"/>
<rect x="104" y="558" width="1" height="3" fill="#eb4d5c"/>
<rect x="113" y="560" width="1" height="8" fill="#52b888"/>
<rect x="122" y="560" width="1" height="12" fill="#52b888"/>
<rect x="131" y="560" width="1" height="18" fill="#52b888"/>
<rect x="140" y="560" width="1" height="22" fill="#52b888"/>
<rect x="149" y="560" width="1" height="21" fill="#52b888"/>
<rect x="158" y="560" width="1" height="11" fill="#52b888"/>
<rect x="167" y="560" width="1" height="12" fill="#52b888"/>
<rect x="176" y="560" width="1" height="7" fill="#52b888"/>
<rect x="185" y="560" width="1" height="4" fill="#52b888"/>
<rect x="194" y="560" width="1" height="13" fill="#52b888"/>
<rect x="203" y="560" width="1" height="19" fill="#52b888"/>
<rect x="212" y="560" width="1" height="27" fill="#52b888"/>
<rect x="221" y="560" width="1" height="35" fill="#52b888"/>
<rect x="230" y="560" width="1" height="37" fill="#52b888"/>
<rect x="239" y="560" width="1" height="37" fill="#52b888"/>
<rect x="248" y="560" width="1" height="33" fill="#52b888"/>
<rect x="257" y="560" width="1" height="31" fill="#52b888"/>
<rect x="266" y="560" width="1" height="30" fill="#52b888"/>
<rect x="275" y="560" width="1" height="25" fill="#52b888"/>
<rect x="284" y="560" width="1" height="27" fill="#52b888"/>
<rect x="293" y="560" width="1" height="25" fill="#52b888"/>
<rect x="302" y="560" width="1" height="34" fill="#52b888"/>
<rect x="311" y="560" width="1" height="35" fill="#52b888"/>
<rect x="320" y="560" width="1" height="42" fill="#52b888"/>
<rect x="329" y="560" width="1" height="41" fill="#52b888"/>
<rect x="338" y="560" width="1" height="46" fill="#52b888"/>
<rect x="347" y="560" width="1" height="51" fill="#52b888"/>
<rect x="356" y="560" width="1" height="54" fill="#52b888"/>
<rect x="365" y="560" width="1" height="45" fill="#52b888"/>
<rect x="374" y="560" width="1" height="37" fill="#52b888"/>
<rect x="383" y="560" width="1" height="33" fill="#52b888"/>
<rect x="392" y="560" width="1" height="29" fill="#52b888"/>
<rect x="401" y="560" width="1" height="26" fill="#52b888"/>
<rect x="410" y="560" width="1" height="36" fill="#52b888"/>
<rect x="419" y="560" width="1" height="37" fill="#52b888"/>
<rect x="428" y="560" width="1" height="27" fill="#52b888"/>
<rect x="437" y="560" width="1" height="14" fill="#52b888"/>
<rect x="446" y="554" width="1" height="7" fill="#eb4d5c"/>
<rect x="455" y="545" width="1" height="16" fill="#eb4d5c"/>
<rect x="464" y="543" width="1" height="18" fill="#eb4d5c"/>
<rect x="473" y="532" width="1" height="29" fill="#eb4d5c"/>
<rect x="482" y="527" width="1" height="34" fill="#eb4d5c"/>
<rect x="491" y="529" width="1" height="32" fill="#eb4d5c"/>
<rect x="500" y="532" width="1" height="29" fill="#eb4d5c"/>
<rect x="509" y="535" width="1" height="26" fill="#eb4d5c"/>
<rect x="518" y="542" width="1" height="19" fill="#eb4d5c"/>
<rect x="527" y="556" width="1" height="5" fill="#eb4d5c"/>
<rect x="536" y="560" width="1" height="1" fill="#52b888"/>
<rect x="545" y="560" width="1" height="4" fill="#52b888"/>
<rect x="554" y="560" width="1" height="3" fill="#52b888"/>
<rect x="563" y="554" width="1" height="7" fill="#eb4d5c"/>
<rect x="572" y="539" width="1" height="22" fill="#eb4d5c"/>
<rect x="581" y="531" width="1" height="30" fill="#eb4d5c"/>
<rect x="590" y="526" width="1" height="35" fill="#eb4d5c"/>
<rect x="599" y="523" width="1" height="38" fill="#eb4d5c"/>
<rect x="608" y="528" width="1" height="33" fill="#eb4d5c"/>
<rect x="617" y="538" width="1" height="23" fill="#eb4d5c"/>
<rect x="626" y="552" width="1" height="9" fill="#eb4d5c"/>
<rect x="635" y="560" width="1" height="12" fill="#52b888"/>
<rect x="644" y="560" width="1" height="17" fill="#52b888"/>
<rect x="653" y="560" width="1" height="16" fill="#52b888"/>
<rect x="662" y="560" width="1" height="11" fill="#52b888"/>
<rect x="671" y="560" width="1" height="9" fill="#52b888"/>
<rect x="680" y="560" width="1" height="11" fill="#52b888"/>
<rect x="689" y="560" width="1" height="7" fill="#52b888"/>
<rect x="698" y="558" width="1" height="3" fill="#eb4d5c"/>
<rect x="707" y="557" width="1" height="4" fill="#eb4d5c"/>
<rect x="716" y="550" width="1" height="11" fill="#eb4d5c"/>
<rect x="725" y="533" width="1" height="28" fill="#eb4d5c"/>
<rect x="734" y="528" width="1" height="33" fill="#eb4d5c"/>
<rect x="743" y="527" width="1" height="34" fill="#eb4d5c"/>
<rect x="752" y="535" width="1" height="26" fill="#eb4d5c"/>
<rect x="761" y="543" width="1" height="18" fill="#eb4d5c"/>
<rect x="770" y="548" width="1" height="13" fill="#eb4d5c"/>
<rect x="779" y="551" width="1" height="10" fill="#eb4d5c"/>
<rect x="788" y="550" width="1" height="11" fill="#eb4d5c"/>
<rect x="797" y="535" width="1" height="26" fill="#eb4d5c"/>
<rect x="806" y="532" width="1" height="29" fill="#eb4d5c"/>
<rect x="815" y="537" width="1" height="24" fill="#eb4d5c"/>
<rect x="824" y="536" width="1" height="25" fill="#eb4d5c"/>
<rect x="833" y="522" width="1" height="39" fill="#eb4d5c"/>
<rect x="842" y="520" width="1" height="41" fill="#eb4d5c"/>
<rect x="851" y="521" width="1" height="40" fill="#eb4d5c"/>
<rect x="860" y="517" width="1" height="44" fill="#eb4d5c"/>
<rect x="869" y="509" width="1" height="52" fill="#eb4d5c"/>
<rect x="878" y="506" width="1" height="55" fill="#eb4d5c"/>
<rect x="887" y="511" width="1" height="50" fill="#eb4d5c"/>
<rect x="896" y="518" width="1" height="43" fill="#eb4d5c"/>
<rect x="905" y="523" width="1" height="38" fill="#eb4d5c"/>
<rect x="914" y="532" width="1" height="29" fill="#eb4d5c"/>
<rect x="923" y="549" width="1" height="12" fill="#eb4d5c"/>
<rect x="932" y="560" width="1" height="1" fill="#eb4d5c"/>
</g>
<polyline points="94.9,535.5 95.5,535.5 104.5,534.4 113.5,539.8 122.5,542.6 131.5,546.9 140.5,552.5 149.5,554.7 158.5,550.1 167.5,552.5 176.5,550.4 185.5,549.3 194.5,556.1 203.5,560.3 212.5,568.8 221.5,577.3 230.5,581.1 239.5,586.0 248.5,588.4 257.5,590.7 266.5,593.3 275.5,594.2 284.5,598.3 293.5,600.4 302.5,609.3 311.5,613.6 320.5,622.1 329.5,626.4 338.5,634.6 347.5,643.7 356.5,651.2 365.5,652.2 374.5,652.4 383.5,654.6 392.5,656.5 401.5,657.5 410.5,665.9 419.5,670.5 428.5,670.5 437.5,665.7 446.5,654.3 455.5,648.9 464.5,645.4 473.5,636.6 482.5,629.2 491.5,627.4 500.5,624.6 509.5,623.2 518.5,624.6 527.5,629.8 536.5,633.3 545.5,634.6 554.5,633.6 563.5,629.2 572.5,618.9 581.5,611.1 590.5,605.0 599.5,598.3 608.5,597.2 617.5,599.6 626.5,605.3 635.5,615.9 644.5,620.6 653.5,621.6 662.5,620.6 671.5,620.6 680.5,622.3 689.5,621.1 698.5,617.7 707.5,616.2 716.5,612.1 725.5,599.4 734.5,592.9 743.5,588.4 752.5,589.2 761.5,591.4 770.5,592.5 779.5,592.5 788.5,590.2 797.5,580.6 806.5,574.4 815.5,574.4 824.5,570.0 833.5,558.4 842.5,553.4 851.5,548.4 860.5,541.4 869.5,529.7 878.5,521.2 887.5,518.3 896.5,516.2 905.5,514.1 914.5,515.5 923.5,521.9 932.5,528.3" fill="none" stroke="#f6f6f6" stroke-width="1" stroke-linejoin="round" shape-rendering="crispEdges"/>
<polyline points="94.9,535.3 95.5,535.3 104.5,535.3 113.5,536.4 122.5,537.7 131.5,539.4 140.5,542.2 149.5,544.5 158.5,545.8 167.5,547.3 176.5,547.6 185.5,548.6 194.5,549.7 203.5,551.4 212.5,555.4 221.5,559.3 230.5,563.1 239.5,568.0 248.5,572.8 257.5,575.4 266.5,580.0 275.5,582.5 284.5,585.7 293.5,588.4 302.5,593.1 311.5,597.0 320.5,601.5 329.5,606.0 338.5,612.2 347.5,618.5 356.5,625.4 365.5,630.4 374.5,634.8 383.5,638.5 392.5,642.3 401.5,645.6 410.5,650.1 419.5,654.3 428.5,657.2 437.5,659.3 446.5,658.6 455.5,656.4 464.5,654.3 473.5,650.0 482.5,646.1 491.5,642.3 500.5,639.1 509.5,635.5 518.5,633.5 527.5,632.6 536.5,632.6 545.5,633.5 554.5,633.5 563.5,632.6 572.5,630.5 581.5,626.3 590.5,622.0 599.5,617.4 608.5,613.1 617.5,610.5 626.5,609.5 635.5,610.2 644.5,612.4 653.5,614.2 662.5,615.6 671.5,616.6 680.5,617.7 689.5,618.3 698.5,618.3 707.5,618.0 716.5,616.6 725.5,613.7 734.5,609.2 743.5,605.4 752.5,601.1 761.5,599.4 770.5,598.3 779.5,597.3 788.5,595.2 797.5,592.0 806.5,589.0 815.5,586.1 824.5,583.3 833.5,578.5 842.5,573.4 851.5,568.4 860.5,562.4 869.5,556.5 878.5,549.5 887.5,543.8 896.5,539.1 905.5,533.9 914.5,529.4 923.5,528.3 932.5,528.3" fill="none" stroke="#e6dc1e" stroke-width="1" stroke-linejoin="round" shape-rendering="crispEdges"/>
<g shape-rendering="crispEdges">
<rect x="91" y="352" width="3" height="1" fill="#f5a030"/>
<rect x="97" y="352" width="3" height="1" fill="#f5a030"/>
<rect x="103" y="352" width="3" height="1" fill="#f5a030"/>
<rect x="109" y="352" width="3" height="1" fill="#f5a030"/>
<rect x="115" y="352" width="3" height="1" fill="#f5a030"/>
<rect x="121" y="352" width="3" height="1" fill="#f5a030"/>
<rect x="127" y="352" width="3" height="1" fill="#f5a030"/>
<rect x="133" y="352" width="3" height="1" fill="#f5a030"/>
<rect x="139" y="352" width="3" height="1" fill="#f5a030"/>
<rect x="145" y="352" width="3" height="1" fill="#f5a030"/>
<rect x="151" y="352" width="3" height="1" fill="#f5a030"/>
<rect x="157" y="352" width="3" height="1" fill="#f5a030"/>
<rect x="163" y="352" width="3" height="1" fill="#f5a030"/>
<rect x="169" y="352" width="3" height="1" fill="#f5a030"/>
<rect x="175" y="352" width="3" height="1" fill="#f5a030"/>
<rect x="181" y="352" width="3" height="1" fill="#f5a030"/>
<rect x="187" y="352" width="3" height="1" fill="#f5a030"/>
<rect x="193" y="352" width="3" height="1" fill="#f5a030"/>
<rect x="199" y="352" width="3" height="1" fill="#f5a030"/>
<rect x="205" y="352" width="3" height="1" fill="#f5a030"/>
<rect x="211" y="352" width="3" height="1" fill="#f5a030"/>
<rect x="217" y="352" width="3" height="1" fill="#f5a030"/>
<rect x="223" y="352" width="3" height="1" fill="#f5a030"/>
<rect x="229" y="352" width="3" height="1" fill="#f5a030"/>
<rect x="235" y="352" width="3" height="1" fill="#f5a030"/>
<rect x="241" y="352" width="3" height="1" fill="#f5a030"/>
<rect x="247" y="352" width="3" height="1" fill="#f5a030"/>
<rect x="253" y="352" width="3" height="1" fill="#f5a030"/>
<rect x="259" y="352" width="3" height="1" fill="#f5a030"/>
<rect x="265" y="352" width="3" height="1" fill="#f5a030"/>
<rect x="271" y="352" width="3" height="1" fill="#f5a030"/>
<rect x="277" y="352" width="3" height="1" fill="#f5a030"/>
<rect x="283" y="352" width="3" height="1" fill="#f5a030"/>
<rect x="289" y="352" width="3" height="1" fill="#f5a030"/>
<rect x="295" y="352" width="3" height="1" fill="#f5a030"/>
<rect x="301" y="352" width="3" height="1" fill="#f5a030"/>
<rect x="307" y="352" width="3" height="1" fill="#f5a030"/>
<rect x="313" y="352" width="3" height="1" fill="#f5a030"/>
<rect x="319" y="352" width="3" height="1" fill="#f5a030"/>
<rect x="325" y="352" width="3" height="1" fill="#f5a030"/>
<rect x="331" y="352" width="3" height="1" fill="#f5a030"/>
<rect x="337" y="352" width="3" height="1" fill="#f5a030"/>
<rect x="343" y="352" width="3" height="1" fill="#f5a030"/>
<rect x="349" y="352" width="3" height="1" fill="#f5a030"/>
<rect x="355" y="352" width="3" height="1" fill="#f5a030"/>
<rect x="361" y="352" width="3" height="1" fill="#f5a030"/>
<rect x="367" y="352" width="3" height="1" fill="#f5a030"/>
<rect x="373" y="352" width="3" height="1" fill="#f5a030"/>
<rect x="379" y="352" width="3" height="1" fill="#f5a030"/>
<rect x="385" y="352" width="3" height="1" fill="#f5a030"/>
<rect x="391" y="352" width="3" height="1" fill="#f5a030"/>
<rect x="397" y="352" width="3" height="1" fill="#f5a030"/>
<rect x="403" y="352" width="3" height="1" fill="#f5a030"/>
<rect x="409" y="352" width="3" height="1" fill="#f5a030"/>
<rect x="415" y="352" width="3" height="1" fill="#f5a030"/>
<rect x="421" y="352" width="3" height="1" fill="#f5a030"/>
<rect x="427" y="352" width="3" height="1" fill="#f5a030"/>
<rect x="433" y="352" width="3" height="1" fill="#f5a030"/>
<rect x="439" y="352" width="3" height="1" fill="#f5a030"/>
<rect x="445" y="352" width="3" height="1" fill="#f5a030"/>
<rect x="451" y="352" width="3" height="1" fill="#f5a030"/>
<rect x="457" y="352" width="3" height="1" fill="#f5a030"/>
<rect x="463" y="352" width="3" height="1" fill="#f5a030"/>
<rect x="469" y="352" width="3" height="1" fill="#f5a030"/>
<rect x="475" y="352" width="3" height="1" fill="#f5a030"/>
<rect x="481" y="352" width="3" height="1" fill="#f5a030"/>
<rect x="487" y="352" width="3" height="1" fill="#f5a030"/>
<rect x="493" y="352" width="3" height="1" fill="#f5a030"/>
<rect x="499" y="352" width="3" height="1" fill="#f5a030"/>
<rect x="505" y="352" width="3" height="1" fill="#f5a030"/>
<rect x="511" y="352" width="3" height="1" fill="#f5a030"/>
<rect x="517" y="352" width="3" height="1" fill="#f5a030"/>
<rect x="523" y="352" width="3" height="1" fill="#f5a030"/>
<rect x="529" y="352" width="3" height="1" fill="#f5a030"/>
<rect x="535" y="352" width="3" height="1" fill="#f5a030"/>
<rect x="541" y="352" width="3" height="1" fill="#f5a030"/>
<rect x="547" y="352" width="3" height="1" fill="#f5a030"/>
<rect x="553" y="352" width="3" height="1" fill="#f5a030"/>
<rect x="559" y="352" width="3" height="1" fill="#f5a030"/>
<rect x="565" y="352" width="3" height="1" fill="#f5a030"/>
<rect x="571" y="352" width="3" height="1" fill="#f5a030"/>
<rect x="577" y="352" width="3" height="1" fill="#f5a030"/>
<rect x="583" y="352" width="3" height="1" fill="#f5a030"/>
<rect x="589" y="352" width="3" height="1" fill="#f5a030"/>
<rect x="595" y="352" width="3" height="1" fill="#f5a030"/>
<rect x="601" y="352" width="3" height="1" fill="#f5a030"/>
<rect x="607" y="352" width="3" height="1" fill="#f5a030"/>
<rect x="613" y="352" width="3" height="1" fill="#f5a030"/>
<rect x="619" y="352" width="3" height="1" fill="#f5a030"/>
<rect x="625" y="352" width="3" height="1" fill="#f5a030"/>
<rect x="631" y="352" width="3" height="1" fill="#f5a030"/>
<rect x="637" y="352" width="3" height="1" fill="#f5a030"/>
<rect x="643" y="352" width="3" height="1" fill="#f5a030"/>
<rect x="649" y="352" width="3" height="1" fill="#f5a030"/>
<rect x="655" y="352" width="3" height="1" fill="#f5a030"/>
<rect x="661" y="352" width="3" height="1" fill="#f5a030"/>
<rect x="667" y="352" width="3" height="1" fill="#f5a030"/>
<rect x="673" y="352" width="3" height="1" fill="#f5a030"/>
<rect x="679" y="352" width="3" height="1" fill="#f5a030"/>
<rect x="685" y="352" width="3" height="1" fill="#f5a030"/>
<rect x="691" y="352" width="3" height="1" fill="#f5a030"/>
<rect x="697" y="352" width="3" height="1" fill="#f5a030"/>
<rect x="703" y="352" width="3" height="1" fill="#f5a030"/>
<rect x="709" y="352" width="3" height="1" fill="#f5a030"/>
<rect x="715" y="352" width="3" height="1" fill="#f5a030"/>
<rect x="721" y="352" width="3" height="1" fill="#f5a030"/>
<rect x="727" y="352" width="3" height="1" fill="#f5a030"/>
<rect x="733" y="352" width="3" height="1" fill="#f5a030"/>
<rect x="739" y="352" width="3" height="1" fill="#f5a030"/>
<rect x="745" y="352" width="3" height="1" fill="#f5a030"/>
<rect x="751" y="352" width="3" height="1" fill="#f5a030"/>
<rect x="757" y="352" width="3" height="1" fill="#f5a030"/>
<rect x="763" y="352" width="3" height="1" fill="#f5a030"/>
<rect x="769" y="352" width="3" height="1" fill="#f5a030"/>
<rect x="775" y="352" width="3" height="1" fill="#f5a030"/>
<rect x="781" y="352" width="3" height="1" fill="#f5a030"/>
<rect x="787" y="352" width="3" height="1" fill="#f5a030"/>
<rect x="793" y="352" width="3" height="1" fill="#f5a030"/>
<rect x="799" y="352" width="3" height="1" fill="#f5a030"/>
<rect x="805" y="352" width="3" height="1" fill="#f5a030"/>
<rect x="811" y="352" width="3" height="1" fill="#f5a030"/>
<rect x="817" y="352" width="3" height="1" fill="#f5a030"/>
<rect x="823" y="352" width="3" height="1" fill="#f5a030"/>
<rect x="829" y="352" width="3" height="1" fill="#f5a030"/>
<rect x="835" y="352" width="3" height="1" fill="#f5a030"/>
<rect x="841" y="352" width="3" height="1" fill="#f5a030"/>
<rect x="847" y="352" width="3" height="1" fill="#f5a030"/>
<rect x="853" y="352" width="3" height="1" fill="#f5a030"/>
<rect x="859" y="352" width="3" height="1" fill="#f5a030"/>
<rect x="865" y="352" width="3" height="1" fill="#f5a030"/>
<rect x="871" y="352" width="3" height="1" fill="#f5a030"/>
<rect x="877" y="352" width="3" height="1" fill="#f5a030"/>
<rect x="883" y="352" width="3" height="1" fill="#f5a030"/>
<rect x="889" y="352" width="3" height="1" fill="#f5a030"/>
<rect x="895" y="352" width="3" height="1" fill="#f5a030"/>
<rect x="901" y="352" width="3" height="1" fill="#f5a030"/>
<rect x="907" y="352" width="3" height="1" fill="#f5a030"/>
<rect x="913" y="352" width="3" height="1" fill="#f5a030"/>
<rect x="919" y="352" width="3" height="1" fill="#f5a030"/>
<rect x="925" y="352" width="3" height="1" fill="#f5a030"/>
<rect x="931" y="352" width="3" height="1" fill="#f5a030"/>
<rect x="937" y="352" width="3" height="1" fill="#f5a030"/>
<rect x="943" y="352" width="3" height="1" fill="#f5a030"/>
<rect x="949" y="352" width="3" height="1" fill="#f5a030"/>
<rect x="955" y="352" width="3" height="1" fill="#f5a030"/>
<rect x="961" y="352" width="3" height="1" fill="#f5a030"/>
<rect x="967" y="352" width="3" height="1" fill="#f5a030"/>
<rect x="973" y="352" width="3" height="1" fill="#f5a030"/>
<rect x="979" y="352" width="3" height="1" fill="#f5a030"/>
<rect x="985" y="352" width="3" height="1" fill="#f5a030"/>
<rect x="991" y="352" width="3" height="1" fill="#f5a030"/>
<rect x="997" y="352" width="3" height="1" fill="#f5a030"/>
<rect x="999" y="352" width="68" height="18" fill="#f0a030"/>
<rect x="1000" y="353" width="67" height="16" fill="#000"/>
<rect x="1067" y="352" width="1" height="4" fill="#f0a030"/>
<rect x="1059" y="344" width="9" height="8" fill="#000"/>
</g>
<path d="M1063.5 344 L1067.5 348 L1059.5 348 Z M1063.5 348.3 L1067.5 352.3 L1059.5 352.3 Z" fill="#f0a030"/>
<text x="1003" y="365" fill="#f0a030" font-size="12.6" font-weight="normal" text-anchor="start" font-family="Liberation Sans" textLength="44" lengthAdjust="spacingAndGlyphs" >99.3718</text>
<rect x="1000" y="553" width="67" height="16" fill="#000" shape-rendering="crispEdges"/>
<text x="86.6" y="25" fill="#fafafa" font-size="12.6" font-weight="normal" text-anchor="end" font-family="Liberation Sans" textLength="44" lengthAdjust="spacingAndGlyphs" >99.8087</text>
<text x="1002.5" y="25" fill="#fafafa" font-size="12.6" font-weight="normal" text-anchor="start" font-family="Liberation Sans" textLength="44" lengthAdjust="spacingAndGlyphs" >99.8087</text>
<text x="86.6" y="82" fill="#fafafa" font-size="12.6" font-weight="normal" text-anchor="end" font-family="Liberation Sans" textLength="44" lengthAdjust="spacingAndGlyphs" >99.7326</text>
<text x="1002.5" y="82" fill="#fafafa" font-size="12.6" font-weight="normal" text-anchor="start" font-family="Liberation Sans" textLength="44" lengthAdjust="spacingAndGlyphs" >99.7326</text>
<text x="86.6" y="140" fill="#fafafa" font-size="12.6" font-weight="normal" text-anchor="end" font-family="Liberation Sans" textLength="44" lengthAdjust="spacingAndGlyphs" >99.6564</text>
<text x="1002.5" y="140" fill="#fafafa" font-size="12.6" font-weight="normal" text-anchor="start" font-family="Liberation Sans" textLength="44" lengthAdjust="spacingAndGlyphs" >99.6564</text>
<text x="86.6" y="197" fill="#fafafa" font-size="12.6" font-weight="normal" text-anchor="end" font-family="Liberation Sans" textLength="44" lengthAdjust="spacingAndGlyphs" >99.5803</text>
<text x="1002.5" y="197" fill="#fafafa" font-size="12.6" font-weight="normal" text-anchor="start" font-family="Liberation Sans" textLength="44" lengthAdjust="spacingAndGlyphs" >99.5803</text>
<text x="86.6" y="255" fill="#fafafa" font-size="12.6" font-weight="normal" text-anchor="end" font-family="Liberation Sans" textLength="44" lengthAdjust="spacingAndGlyphs" >99.5041</text>
<text x="1002.5" y="255" fill="#fafafa" font-size="12.6" font-weight="normal" text-anchor="start" font-family="Liberation Sans" textLength="44" lengthAdjust="spacingAndGlyphs" >99.5041</text>
<text x="86.6" y="313" fill="#fafafa" font-size="12.6" font-weight="normal" text-anchor="end" font-family="Liberation Sans" textLength="44" lengthAdjust="spacingAndGlyphs" >99.4280</text>
<text x="1002.5" y="313" fill="#fafafa" font-size="12.6" font-weight="normal" text-anchor="start" font-family="Liberation Sans" textLength="44" lengthAdjust="spacingAndGlyphs" >99.4280</text>
<text x="86.6" y="370" fill="#fafafa" font-size="12.6" font-weight="normal" text-anchor="end" font-family="Liberation Sans" textLength="44" lengthAdjust="spacingAndGlyphs" >99.3518</text>
<text x="86.6" y="428" fill="#fafafa" font-size="12.6" font-weight="normal" text-anchor="end" font-family="Liberation Sans" textLength="44" lengthAdjust="spacingAndGlyphs" >99.2757</text>
<text x="1002.5" y="428" fill="#fafafa" font-size="12.6" font-weight="normal" text-anchor="start" font-family="Liberation Sans" textLength="44" lengthAdjust="spacingAndGlyphs" >99.2757</text>
<text x="86.6" y="508" fill="#fafafa" font-size="12.6" font-weight="normal" text-anchor="end" font-family="Liberation Sans" textLength="37.5" lengthAdjust="spacingAndGlyphs" >0.0355</text>
<text x="1002.5" y="508" fill="#fafafa" font-size="12.6" font-weight="normal" text-anchor="start" font-family="Liberation Sans" textLength="37.5" lengthAdjust="spacingAndGlyphs" >0.0355</text>
<text x="86.6" y="531" fill="#fafafa" font-size="12.6" font-weight="normal" text-anchor="end" font-family="Liberation Sans" textLength="37.5" lengthAdjust="spacingAndGlyphs" >0.0203</text>
<text x="1002.5" y="531" fill="#fafafa" font-size="12.6" font-weight="normal" text-anchor="start" font-family="Liberation Sans" textLength="37.5" lengthAdjust="spacingAndGlyphs" >0.0203</text>
<text x="86.6" y="555" fill="#fafafa" font-size="12.6" font-weight="normal" text-anchor="end" font-family="Liberation Sans" textLength="37.5" lengthAdjust="spacingAndGlyphs" >0.0052</text>
<clipPath id="c52"><rect x="1000" y="540" width="69" height="13"/></clipPath>
<text x="1002.5" y="555" fill="#fafafa" font-size="12.6" font-weight="normal" text-anchor="start" font-family="Liberation Sans" textLength="37.5" lengthAdjust="spacingAndGlyphs" clip-path="url(#c52)">0.0052</text>
<text x="86.6" y="579" fill="#fafafa" font-size="12.6" font-weight="normal" text-anchor="end" font-family="Liberation Sans" textLength="41.5" lengthAdjust="spacingAndGlyphs" >-0.0099</text>
<text x="1003" y="579" fill="#fafafa" font-size="12.6" font-weight="normal" text-anchor="start" font-family="Liberation Sans" textLength="41.5" lengthAdjust="spacingAndGlyphs" >-0.0099</text>
<text x="86.6" y="603" fill="#fafafa" font-size="12.6" font-weight="normal" text-anchor="end" font-family="Liberation Sans" textLength="41.5" lengthAdjust="spacingAndGlyphs" >-0.0251</text>
<text x="1003" y="603" fill="#fafafa" font-size="12.6" font-weight="normal" text-anchor="start" font-family="Liberation Sans" textLength="41.5" lengthAdjust="spacingAndGlyphs" >-0.0251</text>
<text x="86.6" y="627" fill="#fafafa" font-size="12.6" font-weight="normal" text-anchor="end" font-family="Liberation Sans" textLength="41.5" lengthAdjust="spacingAndGlyphs" >-0.0402</text>
<text x="1003" y="627" fill="#fafafa" font-size="12.6" font-weight="normal" text-anchor="start" font-family="Liberation Sans" textLength="41.5" lengthAdjust="spacingAndGlyphs" >-0.0402</text>
<text x="86.6" y="651" fill="#fafafa" font-size="12.6" font-weight="normal" text-anchor="end" font-family="Liberation Sans" textLength="41.5" lengthAdjust="spacingAndGlyphs" >-0.0553</text>
<text x="1003" y="651" fill="#fafafa" font-size="12.6" font-weight="normal" text-anchor="start" font-family="Liberation Sans" textLength="41.5" lengthAdjust="spacingAndGlyphs" >-0.0553</text>
<text x="1001.5" y="565" fill="#f07d0a" font-size="12.6" font-weight="normal" text-anchor="start" font-family="Liberation Sans" textLength="37.5" lengthAdjust="spacingAndGlyphs" >0.0050</text>
<g shape-rendering="crispEdges"><rect x="156" y="68" width="7" height="1" fill="#f0f0f0"/><rect x="158" y="66" width="1" height="5" fill="#f0f0f0"/></g>
<g shape-rendering="crispEdges"><rect x="894" y="268" width="7" height="1" fill="#f0f0f0"/><rect x="896" y="266" width="1" height="5" fill="#f0f0f0"/></g>
<g shape-rendering="crispEdges"><rect x="633" y="452" width="7" height="1" fill="#f0f0f0"/><rect x="635" y="450" width="1" height="5" fill="#f0f0f0"/></g>
<text x="163.4" y="65" fill="#ea4e5c" font-size="12.6" font-weight="bold" text-anchor="start" font-family="Liberation Sans" textLength="44.5" lengthAdjust="spacingAndGlyphs" >99.7477</text>
<text x="901.4" y="265" fill="#ea4e5c" font-size="12.6" font-weight="bold" text-anchor="start" font-family="Liberation Sans" textLength="44.5" lengthAdjust="spacingAndGlyphs" >99.4830</text>
<text x="640.2" y="464" fill="#4db486" font-size="12.6" font-weight="bold" text-anchor="start" font-family="Liberation Sans" textLength="44.5" lengthAdjust="spacingAndGlyphs" >99.2394</text>
<text x="92" y="14.2" fill="#f4f4f4" font-size="12.2" font-weight="normal" text-anchor="start" font-family="'Liberation Sans', 'Noto Sans CJK SC', sans-serif">美元指数</text>
<text x="141.5" y="14.2" fill="#ff6600" font-size="12.2" font-weight="normal" text-anchor="start" font-family="'Liberation Sans', 'Noto Sans CJK SC', sans-serif">【</text>
<text x="153.2" y="14.2" fill="#ff6600" font-size="12.6" font-weight="normal" text-anchor="start" font-family="Liberation Sans" >5</text>
<text x="160.3" y="14.2" fill="#ff6600" font-size="12.2" font-weight="normal" text-anchor="start" font-family="'Liberation Sans', 'Noto Sans CJK SC', sans-serif">分</text>
<text x="172.2" y="14.2" fill="#ff6600" font-size="12.2" font-weight="normal" text-anchor="start" font-family="'Liberation Sans', 'Noto Sans CJK SC', sans-serif">】</text>
<g stroke="#ff6600" stroke-width="1" fill="none"><circle cx="188.5" cy="11.5" r="4"/><path d="M184.5 11.5H192.5M188.5 7.5V15.5"/></g>
<text x="92.5" y="497" fill="#dcdcdc" font-size="12.6" font-weight="normal" text-anchor="start" font-family="Liberation Sans" textLength="85" lengthAdjust="spacingAndGlyphs" >MACD(26,12,9)</text>
<text x="182.3" y="497" fill="#dcdcdc" font-size="12.6" font-weight="normal" text-anchor="start" font-family="Liberation Sans" textLength="65.7" lengthAdjust="spacingAndGlyphs" >DIFF:0.0208</text>
<text x="257" y="497" fill="#d6d61a" font-size="12.6" font-weight="normal" text-anchor="start" font-family="Liberation Sans" textLength="63.2" lengthAdjust="spacingAndGlyphs" >DEA:0.0207</text>
<text x="329.5" y="497" fill="#d020d0" font-size="12.6" font-weight="normal" text-anchor="start" font-family="Liberation Sans" textLength="76.5" lengthAdjust="spacingAndGlyphs" >MACD:0.0002</text>
<circle cx="29" cy="489.7" r="4.25" fill="#000"/><circle cx="29" cy="489.7" r="3.2" fill="#fff"/><circle cx="29" cy="489.7" r="1.9" fill="#ff0000"/>
<g shape-rendering="crispEdges" fill="#ff0000">
<rect x="28" y="483" width="1" height="2"/>
<rect x="28" y="495" width="1" height="2"/>
<rect x="22" y="489" width="2" height="1"/>
<rect x="34" y="489" width="2" height="1"/>
<rect x="23" y="484" width="1" height="1"/>
<rect x="24" y="485" width="1" height="1"/>
<rect x="34" y="484" width="1" height="1"/>
<rect x="33" y="485" width="1" height="1"/>
<rect x="23" y="495" width="1" height="1"/>
<rect x="24" y="494" width="1" height="1"/>
<rect x="33" y="494" width="1" height="1"/>
<rect x="34" y="495" width="1" height="1"/>
</g>
<g shape-rendering="crispEdges">
<rect x="0" y="0" width="19" height="707" fill="#050505"/>
<rect x="0" y="0" width="19" height="214" fill="#232428"/>
<rect x="0" y="214" width="1" height="493" fill="#1c1c1c"/>
<rect x="0" y="51" width="19" height="46" fill="#ff6600"/>
<rect x="0" y="149" width="19" height="1" fill="#303136"/>
<rect x="0" y="50" width="19" height="1" fill="#2c2d31"/>
</g>
<text x="9.6" y="17.6" fill="#c8c8c8" font-size="12" font-weight="normal" text-anchor="middle" font-family="'Liberation Sans', 'Noto Sans CJK SC', sans-serif">分</text>
<text x="9.6" y="32.3" fill="#c8c8c8" font-size="12" font-weight="normal" text-anchor="middle" font-family="'Liberation Sans', 'Noto Sans CJK SC', sans-serif">时</text>
<text x="9.6" y="45.8" fill="#c8c8c8" font-size="12" font-weight="normal" text-anchor="middle" font-family="'Liberation Sans', 'Noto Sans CJK SC', sans-serif">图</text>
<text x="6.2" y="65.3" fill="#ffffff" font-size="11" font-weight="normal" text-anchor="start" font-family="Liberation Serif" textLength="7" lengthAdjust="spacingAndGlyphs" >K</text>
<text x="9.6" y="80.8" fill="#ffffff" font-size="12" font-weight="normal" text-anchor="middle" font-family="'Liberation Sans', 'Noto Sans CJK SC', sans-serif">线</text>
<text x="9.6" y="94.8" fill="#ffffff" font-size="12" font-weight="normal" text-anchor="middle" font-family="'Liberation Sans', 'Noto Sans CJK SC', sans-serif">图</text>
<text x="9.6" y="115.8" fill="#c8c8c8" font-size="12" font-weight="normal" text-anchor="middle" font-family="'Liberation Sans', 'Noto Sans CJK SC', sans-serif">闪</text>
<text x="9.6" y="132" fill="#c8c8c8" font-size="12" font-weight="normal" text-anchor="middle" font-family="'Liberation Sans', 'Noto Sans CJK SC', sans-serif">电</text>
<text x="9.6" y="144.2" fill="#c8c8c8" font-size="12" font-weight="normal" text-anchor="middle" font-family="'Liberation Sans', 'Noto Sans CJK SC', sans-serif">图</text>
<text x="9.6" y="167.7" fill="#c8c8c8" font-size="12" font-weight="normal" text-anchor="middle" font-family="'Liberation Sans', 'Noto Sans CJK SC', sans-serif">合</text>
<text x="9.6" y="182.1" fill="#c8c8c8" font-size="12" font-weight="normal" text-anchor="middle" font-family="'Liberation Sans', 'Noto Sans CJK SC', sans-serif">约</text>
<text x="9.6" y="196" fill="#c8c8c8" font-size="12" font-weight="normal" text-anchor="middle" font-family="'Liberation Sans', 'Noto Sans CJK SC', sans-serif">资</text>
<text x="9.6" y="209.8" fill="#c8c8c8" font-size="12" font-weight="normal" text-anchor="middle" font-family="'Liberation Sans', 'Noto Sans CJK SC', sans-serif">料</text>
<text x="37.8" y="686.2" fill="#ff6600" font-size="12.8" font-weight="bold" text-anchor="start" font-family="Liberation Sans" >5</text>
<text x="44.7" y="687" fill="#ff6600" font-size="12.6" font-weight="bold" text-anchor="start" font-family="'Liberation Sans', 'Noto Sans CJK SC', sans-serif">分</text>
<path d="M66.2 677.7L70.7 685.9H61.7Z" fill="#ff6600"/>
<rect x="768" y="672" width="163" height="16" fill="#000" shape-rendering="crispEdges"/>
<text x="769.3" y="684" fill="#f29a30" font-size="12.6" font-weight="normal" text-anchor="start" font-family="Liberation Sans" textLength="66" lengthAdjust="spacingAndGlyphs" >2025/04/24</text>
<text x="839.8" y="684" fill="#f29a30" font-size="12.6" font-weight="normal" text-anchor="start" font-family="Liberation Sans" textLength="28.8" lengthAdjust="spacingAndGlyphs" >20:50</text>
<text x="876.3" y="683.5" fill="#f29a30" font-size="12.6" font-weight="normal" text-anchor="middle" font-family="Liberation Sans" >~</text>
<text x="882.5" y="684" fill="#f29a30" font-size="12.6" font-weight="normal" text-anchor="start" font-family="Liberation Sans" textLength="28.8" lengthAdjust="spacingAndGlyphs" >20:55</text>
<text x="917.3" y="684.5" fill="#f29a30" font-size="12" font-weight="normal" text-anchor="start" font-family="'Liberation Sans', 'Noto Sans CJK SC', sans-serif">四</text>
<text x="939.5" y="682" fill="#e2e6fa" font-size="30.9" font-weight="normal" text-anchor="start" font-family="Liberation Sans" stroke="#1a1a1a" stroke-width="0.5" paint-order="fill stroke">F</text>
<text x="960.7" y="682" fill="#e2e6fa" font-size="30.9" font-weight="normal" text-anchor="start" font-family="Liberation Sans" stroke="#1a1a1a" stroke-width="0.5" paint-order="fill stroke">X</text>
<text x="982.7" y="682" fill="#e2e6fa" font-size="30.9" font-weight="normal" text-anchor="start" font-family="Liberation Sans" stroke="#1a1a1a" stroke-width="0.5" paint-order="fill stroke">6</text>
<text x="1001.6" y="682" fill="#e2e6fa" font-size="30.9" font-weight="normal" text-anchor="start" font-family="Liberation Sans" stroke="#1a1a1a" stroke-width="0.5" paint-order="fill stroke">7</text>
<text x="1021.4" y="682" fill="#e2e6fa" font-size="30.9" font-weight="normal" text-anchor="start" font-family="Liberation Sans" stroke="#1a1a1a" stroke-width="0.5" paint-order="fill stroke">8</text>
<g shape-rendering="crispEdges">
<rect x="19" y="691" width="1050" height="1" fill="#212121"/>
<rect x="20" y="692" width="598" height="15" fill="#060606"/>
<rect x="618" y="706" width="451" height="1" fill="#1f1f1f"/>
<rect x="20" y="691" width="39" height="15" fill="#ff6600"/>
<rect x="99" y="692" width="1" height="15" fill="#242424"/>
<rect x="157" y="692" width="1" height="15" fill="#242424"/>
<rect x="185" y="692" width="1" height="15" fill="#242424"/>
<rect x="225" y="692" width="1" height="15" fill="#242424"/>
<rect x="265" y="692" width="1" height="15" fill="#242424"/>
<rect x="299" y="692" width="1" height="15" fill="#242424"/>
<rect x="333" y="692" width="1" height="15" fill="#242424"/>
<rect x="373" y="692" width="1" height="15" fill="#242424"/>
<rect x="407" y="692" width="1" height="15" fill="#242424"/>
<rect x="436" y="692" width="1" height="15" fill="#242424"/>
<rect x="469" y="692" width="1" height="15" fill="#242424"/>
<rect x="509" y="692" width="1" height="15" fill="#242424"/>
<rect x="543" y="692" width="1" height="15" fill="#242424"/>
<rect x="577" y="692" width="1" height="15" fill="#242424"/>
<rect x="617" y="692" width="1" height="15" fill="#242424"/>
</g>
<text x="27.8" y="703.6" fill="#ffffff" font-size="12" font-weight="500" text-anchor="start" font-family="'Liberation Sans', 'Noto Sans CJK SC', sans-serif">指标</text>
<text x="67.7" y="703.6" fill="#ffffff" font-size="12" font-weight="500" text-anchor="start" font-family="'Liberation Sans', 'Noto Sans CJK SC', sans-serif">模板</text>
<text x="108.5" y="703" fill="#ff6600" font-size="12" font-weight="normal" text-anchor="start" font-family="Liberation Mono" textLength="18" lengthAdjust="spacingAndGlyphs" >VIP</text>
<text x="126.7" y="703.6" fill="#ff6600" font-size="12" font-weight="normal" text-anchor="start" font-family="'Liberation Sans', 'Noto Sans CJK SC', sans-serif">指标</text>
<text x="166.0" y="703" fill="#b4b4b4" font-size="12" font-weight="normal" text-anchor="start" font-family="Liberation Mono" textLength="12" lengthAdjust="spacingAndGlyphs" >MA</text>
<text x="193.5" y="703" fill="#b4b4b4" font-size="12" font-weight="normal" text-anchor="start" font-family="Liberation Mono" textLength="24" lengthAdjust="spacingAndGlyphs" >MACD</text>
<text x="233.5" y="703" fill="#b4b4b4" font-size="12" font-weight="normal" text-anchor="start" font-family="Liberation Mono" textLength="24" lengthAdjust="spacingAndGlyphs" >BIAS</text>
<text x="273.5" y="703" fill="#b4b4b4" font-size="12" font-weight="normal" text-anchor="start" font-family="Liberation Mono" textLength="18" lengthAdjust="spacingAndGlyphs" >CCI</text>
<text x="307.5" y="703" fill="#b4b4b4" font-size="12" font-weight="normal" text-anchor="start" font-family="Liberation Mono" textLength="18" lengthAdjust="spacingAndGlyphs" >KDJ</text>
<text x="342.0" y="703" fill="#b4b4b4" font-size="12" font-weight="normal" text-anchor="start" font-family="Liberation Mono" textLength="18" lengthAdjust="spacingAndGlyphs" >LW&amp;</text>
<text x="381.5" y="703" fill="#b4b4b4" font-size="12" font-weight="normal" text-anchor="start" font-family="Liberation Mono" textLength="18" lengthAdjust="spacingAndGlyphs" >RSI</text>
<text x="416.0" y="703" fill="#b4b4b4" font-size="12" font-weight="normal" text-anchor="start" font-family="Liberation Mono" textLength="12" lengthAdjust="spacingAndGlyphs" >CR</text>
<text x="444.0" y="703" fill="#b4b4b4" font-size="12" font-weight="normal" text-anchor="start" font-family="Liberation Mono" textLength="18" lengthAdjust="spacingAndGlyphs" >PSY</text>
<text x="477.5" y="703" fill="#b4b4b4" font-size="12" font-weight="normal" text-anchor="start" font-family="Liberation Mono" textLength="24" lengthAdjust="spacingAndGlyphs" >BOLL</text>
<text x="517.5" y="703" fill="#b4b4b4" font-size="12" font-weight="normal" text-anchor="start" font-family="Liberation Mono" textLength="18" lengthAdjust="spacingAndGlyphs" >VOL</text>
<text x="551.5" y="703" fill="#b4b4b4" font-size="12" font-weight="normal" text-anchor="start" font-family="Liberation Mono" textLength="18" lengthAdjust="spacingAndGlyphs" >OBV</text>
<text x="586" y="703.6" fill="#dcdcdc" font-size="12" font-weight="normal" text-anchor="start" font-family="'Liberation Sans', 'Noto Sans CJK SC', sans-serif">设置</text>
<g shape-rendering="crispEdges">
<rect x="936" y="1" width="14" height="14" fill="#050505"/>
<rect x="936.5" y="1.5" width="13" height="13" fill="none" stroke="#a8a8a8" stroke-width="1"/>
<rect x="952" y="1" width="14" height="14" fill="#050505"/>
<rect x="952.5" y="1.5" width="13" height="13" fill="none" stroke="#a8a8a8" stroke-width="1"/>
<rect x="968" y="1" width="14" height="14" fill="#050505"/>
<rect x="968.5" y="1.5" width="13" height="13" fill="none" stroke="#a8a8a8" stroke-width="1"/>
<rect x="984" y="1" width="14" height="14" fill="#050505"/>
<rect x="984.5" y="1.5" width="13" height="13" fill="none" stroke="#a8a8a8" stroke-width="1"/>
<rect x="942" y="4" width="2" height="2" fill="#b4b4b4"/>
<rect x="942" y="7" width="2" height="2" fill="#b4b4b4"/>
<rect x="942" y="10" width="2" height="2" fill="#b4b4b4"/>
<rect x="938" y="7" width="3" height="2" fill="#b4b4b4"/>
<rect x="945" y="7" width="3" height="2" fill="#b4b4b4"/>
</g>
<path d="M955.5 3V12.5 M954 11.5H964" stroke="#b4b4b4" stroke-width="1" fill="none"/>
<path d="M955.5 2.5L957 4.5H954Z M964.5 11.5L962.5 10V13Z M953.5 11.5L955.2 10.2V12.8Z" fill="#b4b4b4"/>
<path d="M958.7 4V10" stroke="#b4b4b4" stroke-width="1.2" fill="none"/><path d="M959.4 7L962.4 4.3V9.7Z" fill="#b4b4b4"/>
<path d="M971.5 3V12.5 M970 11.5H980" stroke="#b4b4b4" stroke-width="1" fill="none"/>
<path d="M971.5 2.5L973 4.5H970Z M980.5 11.5L978.5 10V13Z M969.5 11.5L971.2 10.2V12.8Z" fill="#b4b4b4"/>
<path d="M974.3 4V10.4L979.2 7.2Z" fill="#b4b4b4"/>
<rect x="986.5" y="3.5" width="3" height="9" fill="none" stroke="#b4b4b4" stroke-width="1"/>
<path d="M989.5 7.5H992.5" stroke="#b4b4b4" stroke-width="1.4" fill="none"/><path d="M995 7.5L991.8 5V10Z" fill="#b4b4b4"/>
</svg>
</body></html>
